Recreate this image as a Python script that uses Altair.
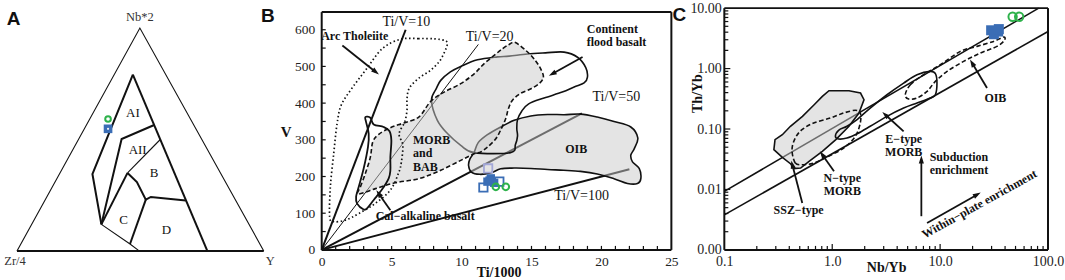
import math
import pandas as pd
import altair as alt

SERIF = "Liberation Serif"
SANS = "Liberation Sans"
INK = "#111111"
BLUE = "#3a6db5"
LIGHT_BLUE = "#a3a8d8"
GREEN = "#2eb24b"
FIELD_FILL = "#cacaca"
ARROW_SHAPE = "M0,-1L0.62,0.9L-0.62,0.9Z"

# ===================== Panel A : Zr/4 - Nb*2 - Y ternary (unit cartesian) =====================
A_TRIANGLE = [(0.0, 0.0), (0.498, 1.0), (1.0, 0.0)]
A_BASE = [(0.0, 0.0), (1.0, 0.0)]
A_THICK_LINES = {
    "k1": [(0.4696, 0.7915), (0.7713, 0.0)],
    "k2": [(0.4696, 0.7915), (0.3057, 0.345), (0.342, 0.119)],
    "k3": [(0.342, 0.119), (0.424, 0.502), (0.556, 0.565)],
    "k4": [(0.342, 0.119), (0.448, 0.350)],
    "k5": [(0.448, 0.350), (0.486, 0.309), (0.522, 0.230), (0.5425, 0.242), (0.684, 0.2265)],
    "k6": [(0.522, 0.230), (0.458, 0.031)],
}
A_THIN_LINES = {
    "t1": [(0.448, 0.350), (0.5807, 0.5)],
    "t2": [(0.342, 0.119), (0.458, 0.031), (0.495, 0.0)],
}
A_FIELD_TEXT = ["AI", "AII", "B", "C", "D"]
A_FIELD_X = [0.47, 0.489, 0.556, 0.432, 0.606]
A_FIELD_Y = [0.619, 0.454, 0.35, 0.14, 0.0955]
A_APEX_TEXT = ["Nb*2", "Zr/4", "Y"]
A_APEX_X = [0.498, -0.008, 1.026]
A_APEX_Y = [1.049, -0.046, -0.046]
A_CIRCLES = [(0.369, 0.592)]
A_SQUARES = [(0.369, 0.548)]

# ===================== Panel B : Ti/1000 vs V =====================
B_TIV_LINES = {
    "10": [(0.0, 0.0), (6.0, 600.0)],
    "20": [(0.0, 0.0), (11.2, 560.0)],
    "50": [(0.0, 0.0), (18.6, 372.0)],
    "100": [(0.0, 0.0), (22.0, 220.0)],
}
B_TIV_WIDTH = {"10": 2.0, "20": 1.0, "50": 2.0, "100": 2.0}
B_ARC_THOLEIITE = [(5.63, 574), (6.9, 576), (8.1, 575), (8.85, 570), (8.97, 559), (8.8, 541),
                   (8.42, 514), (7.77, 489), (6.94, 468), (6.27, 441), (6.1, 412), (6.1, 381),
                   (5.94, 349), (5.6, 325), (5.55, 310), (5.8, 285), (5.7, 240), (5.5, 210),
                   (4.91, 163), (3.84, 127), (2.65, 99), (1.69, 81), (0.86, 77), (0.57, 90),
                   (0.62, 172), (0.86, 263), (1.1, 344), (1.4, 395), (2.17, 441), (3.12, 489),
                   (4.32, 548)]
B_CAL_ALKALINE = [(3.12, 362), (3.48, 360), (3.72, 342), (4.43, 335), (4.84, 324), (4.98, 299),
                  (4.91, 253), (4.91, 217), (4.79, 195), (4.32, 165), (3.72, 136), (3.24, 113),
                  (3.0, 110), (2.53, 126), (2.46, 145), (2.65, 172), (3.0, 222), (3.31, 281),
                  (3.36, 317), (3.17, 349)]
B_MORB_BAB = [(2.6, 152), (2.77, 172), (3.12, 208), (3.48, 253), (3.65, 294), (4.08, 315),
              (4.91, 333), (5.87, 346), (6.94, 362), (7.8, 405), (8.75, 430), (9.94, 453),
              (10.9, 480), (11.6, 507), (12.33, 530), (12.92, 548), (13.4, 560), (13.85, 565),
              (14.7, 540), (15.3, 515), (15.7, 490), (15.85, 471), (15.6, 455), (15.0, 440),
              (14.2, 426), (13.64, 408), (13.35, 385), (13.16, 358), (12.85, 331), (12.45, 303),
              (11.85, 280), (11.37, 267), (10.9, 262), (9.94, 244), (8.51, 217), (6.94, 194),
              (5.27, 183), (3.84, 167)]
B_CFB = [(7.85, 408), (8.2, 440), (8.51, 462), (9.2, 485), (9.94, 500), (11.14, 518), (12.57, 526),
         (13.4, 528), (14.7, 534), (16.0, 537), (17.33, 539), (18.29, 525), (18.88, 497),
         (19.0, 471), (18.76, 455), (18.05, 444), (17.2, 430), (15.9, 414), (14.8, 398),
         (14.3, 378), (14.0, 355), (13.95, 330), (14.0, 310), (13.85, 287), (13.5, 265),
         (10.9, 265), (9.94, 285), (8.99, 317), (8.27, 353)]
B_OIB = [(10.9, 266), (11.2, 293), (11.85, 314), (12.8, 335), (13.76, 353), (14.95, 365),
         (16.15, 369), (17.33, 368.5), (18.5, 370), (19.7, 362), (20.9, 350), (22.1, 335),
         (22.6, 305), (22.35, 276), (22.1, 258), (22.22, 240), (22.7, 222), (22.82, 195),
         (22.58, 181), (21.86, 181), (20.9, 194), (19.7, 207), (18.5, 214), (17.3, 217),
         (16.15, 219), (14.95, 222), (13.76, 223), (12.8, 221), (12.1, 210), (11.3, 206),
         (10.7, 212), (10.5, 230), (10.6, 248)]
B_FRAME = [(0, 0, 25, 0), (0, 648, 25, 648), (0, 0, 0, 648), (25, 0, 25, 648)]
B_XTICKS = list(range(1, 25))
B_YTICKS = list(range(50, 601, 50))
B_XLABELS = [0, 5, 10, 15, 20, 25]
B_YLABELS = [0, 100, 200, 300, 400, 500, 600]
B_TEXT_PLAIN = ["Ti/V=10", "Ti/V=20", "Ti/V=50", "Ti/V=100"]
B_TEXT_PLAIN_X = [4.34, 10.3, 19.36, 16.62]
B_TEXT_PLAIN_Y = [620.8, 580, 416.8, 146.5]
B_TEXT_BOLD_LEFT = ["Cal\u2212alkaline basalt"]
B_TEXT_BOLD_LEFT_X = [3.86]
B_TEXT_BOLD_LEFT_Y = [92]
B_TEXT_BOLD_CENTER = ["Arc Tholeiite", "OIB"]
B_TEXT_BOLD_CENTER_X = [2.36, 18.2]
B_TEXT_BOLD_CENTER_Y = [582.7, 276]
# multi-line labels: (text, x, y of first line, line height px, align)
B_TEXT_BLOCKS = [("Continent\nflood basalt", 18.95, 602.7, 13.5, "left"),
                 ("MORB\nand\nBAB", 6.53, 298.9, 13.3, "left")]
B_ARROW_TAIL = [(1.48, 557), (18.65, 525.6), (4.91, 108)]
B_ARROW_HEAD = [(3.86, 485), (16.5, 480), (4.08, 153)]
B_OPEN_SQUARES = [(11.56, 170), (12.7, 186)]
B_LIGHT_SQUARES = [(11.9, 222)]
B_FILLED_SQUARES = [(12.09, 195), (11.85, 186), (12.33, 183), (12.0, 189)]
B_GREEN_CIRCLES = [(12.45, 172), (13.16, 172)]

# ===================== Panel C : Nb/Yb vs Th/Yb (log-log) =====================
C_ARRAY_LINES = {"upper": [(0.1, 0.0093), (82.0, 10.0)], "lower": [(0.1, 0.0038), (100.0, 4.1)]}
C_SSZ = [(0.933, 0.43), (1.43, 0.43), (1.83, 0.394), (1.97, 0.305), (1.77, 0.184), (1.43, 0.111),
         (1.08, 0.0667), (0.81, 0.0428), (0.61, 0.0292), (0.51, 0.0226), (0.44, 0.0221),
         (0.41, 0.0267), (0.345, 0.034), (0.288, 0.0455), (0.295, 0.0667), (0.345, 0.0805),
         (0.41, 0.111), (0.53, 0.162), (0.68, 0.252), (0.81, 0.347)]
C_NMORB = [(0.424, 0.0455), (0.455, 0.0274), (0.543, 0.0257), (0.673, 0.0274), (0.895, 0.0344),
           (1.276, 0.0485), (1.637, 0.0757), (1.82, 0.126), (1.82, 0.184), (1.637, 0.204),
           (1.276, 0.184), (0.96, 0.152), (0.673, 0.126), (0.525, 0.0973), (0.455, 0.071)]
C_EMORB = [(1.07, 0.0757), (1.146, 0.0953), (1.37, 0.111), (1.70, 0.143), (2.25, 0.222),
           (3.22, 0.369), (4.59, 0.575), (6.11, 0.791), (8.11, 0.897), (9.04, 0.822),
           (9.35, 0.575), (9.04, 0.369), (8.11, 0.325), (6.11, 0.269), (4.59, 0.222),
           (3.22, 0.162), (2.25, 0.111), (1.70, 0.0836), (1.37, 0.071), (1.146, 0.0684)]
C_OIB = [(4.75, 0.369), (5.30, 0.541), (7.03, 0.791), (10.05, 1.156), (15.38, 1.923),
         (21.98, 2.328), (31.3, 2.812), (38.8, 3.319), (39.4, 2.924), (33.6, 2.328),
         (23.6, 1.803), (16.5, 1.315), (11.6, 0.897), (9.04, 0.614), (7.57, 0.420),
         (6.11, 0.325), (5.11, 0.313)]
C_FRAME = [(0.1, 0.001, 100, 0.001), (0.1, 10, 100, 10), (0.1, 0.001, 0.1, 10), (100, 0.001, 100, 10)]
C_XTICKS_MAJOR = [1, 10]
C_XTICKS_MINOR = [0.2, 0.3, 0.4, 0.5, 0.6, 0.7, 0.8, 0.9, 2, 3, 4, 5, 6, 7, 8, 9,
                  20, 30, 40, 50, 60, 70, 80, 90]
C_YTICKS_MAJOR = [0.01, 0.1, 1]
C_YTICKS_MINOR = [0.002, 0.003, 0.004, 0.005, 0.006, 0.007, 0.008, 0.009,
                  0.02, 0.03, 0.04, 0.05, 0.06, 0.07, 0.08, 0.09,
                  0.2, 0.3, 0.4, 0.5, 0.6, 0.7, 0.8, 0.9, 2, 3, 4, 5, 6, 7, 8, 9]
C_XLABELS = [0.1, 1, 10, 100]
C_YLABELS = [0.001, 0.01, 0.1, 1, 10]
C_TEXT_BOLD_CENTER = ["SSZ\u2212type", "OIB"]
C_TEXT_BOLD_CENTER_X = [0.488, 32.5]
C_TEXT_BOLD_CENTER_Y = [0.00464, 0.325]
C_TEXT_BLOCKS = [("N\u2212type\nMORB", 1.24, 0.0155, 13.3, "center"),
                 ("E\u2212type\nMORB", 4.6, 0.0683, 13.0, "center"),
                 ("Subduction\nenrichment", 8.0, 0.0348, 13.0, "left")]
C_TEXT_ROTATED = ["Within\u2212plate enrichment"]
C_TEXT_ROTATED_X = [23.1]
C_TEXT_ROTATED_Y = [0.00575]
C_ARROW_TAIL = [(0.528, 0.00598), (1.039, 0.0200), (4.59, 0.0916), (27.2, 0.476), (6.70, 0.00361), (7.57, 0.00279)]
C_ARROW_HEAD = [(0.427, 0.0257), (0.809, 0.0376), (3.11, 0.172), (19.8, 1.233), (6.70, 0.0311), (22.0, 0.0082)]
C_FILLED_SQUARES = [(29.7, 4.3), (34.5, 4.1), (31.5, 3.7), (35.0, 4.5)]
C_GREEN_CIRCLES = [(47.0, 7.2), (54.0, 7.2)]

# ===================== layout constants =====================
A_W, A_H = 268, 280
B_W, B_H = 350, 247
C_W, C_H = 324, 247
GAP = 53


def pts_df(points, pid="p"):
    return pd.DataFrame({"id": pid, "i": list(range(len(points))),
                         "x": [p[0] for p in points], "y": [p[1] for p in points]})


def multi_df(dct):
    return pd.concat([pts_df(v, k) for k, v in dct.items()], ignore_index=True)


def text_df(texts, xs, ys):
    return pd.DataFrame({"t": texts, "x": xs, "y": ys})


def seg_df(rows):
    return pd.DataFrame({"x": [r[0] for r in rows], "y": [r[1] for r in rows],
                         "x2": [r[2] for r in rows], "y2": [r[3] for r in rows]})


def head_angle(dx, dy):
    return (math.degrees(math.atan2(dx, -dy)) + 360.0) % 360.0


# ---------------------------------------------------------------- Panel A
AXS = alt.Scale(domain=[-16 / 247, (A_W - 16) / 247], nice=False, zero=False)
AYS = alt.Scale(domain=[(248 - A_H) / 223, 248 / 223], nice=False, zero=False)


def enc_a(**kw):
    return dict(x=alt.X("x:Q", scale=AXS, axis=None), y=alt.Y("y:Q", scale=AYS, axis=None), **kw)


a_layers = [
    alt.Chart(pts_df(A_TRIANGLE)).mark_line(color=INK, strokeWidth=1.1).encode(**enc_a(order="i:Q")),
    alt.Chart(pts_df(A_BASE)).mark_line(color=INK, strokeWidth=2).encode(**enc_a(order="i:Q")),
    alt.Chart(multi_df(A_THICK_LINES)).mark_line(color=INK, strokeWidth=2).encode(
        **enc_a(detail="id:N", order="i:Q")),
    alt.Chart(multi_df(A_THIN_LINES)).mark_line(color=INK, strokeWidth=1.1).encode(
        **enc_a(detail="id:N", order="i:Q")),
    alt.Chart(text_df(A_FIELD_TEXT, A_FIELD_X, A_FIELD_Y)).mark_text(
        font=SERIF, fontSize=13, color=INK).encode(**enc_a(text="t:N")),
    alt.Chart(text_df(A_APEX_TEXT, A_APEX_X, A_APEX_Y)).mark_text(
        font=SERIF, fontSize=12.5, color="#333333").encode(**enc_a(text="t:N")),
    alt.Chart(pts_df(A_SQUARES)).mark_square(color=BLUE, size=75, opacity=1).encode(**enc_a()),
    alt.Chart(pts_df(A_SQUARES)).mark_circle(color="#f4f4f4", size=5, opacity=1).encode(**enc_a()),
    alt.Chart(pts_df(A_CIRCLES)).mark_point(shape="circle", filled=False, color=GREEN,
                                            strokeWidth=2, size=32, opacity=1).encode(**enc_a()),
    alt.Chart(pd.DataFrame({"t": ["A"]})).mark_text(
        font=SANS, fontWeight="bold", fontSize=19, color=INK).encode(
        text="t:N", x=alt.value(12.5), y=alt.value(15.5)),
]
panel_a = alt.layer(*a_layers).properties(width=A_W, height=A_H)

# ---------------------------------------------------------------- Panel B
BXS = alt.Scale(domain=[0, 25], nice=False, zero=False)
BYS = alt.Scale(domain=[0, 672.5], nice=False, zero=False)
B_PX_X = B_W / 25.0
B_PX_Y = B_H / 672.5

axis_common = dict(ticks=False, tickSize=0, domain=False, grid=False, labelFlush=False,
                   labelOverlap=False, labelFont=SERIF, labelColor="#222222",
                   titleFont=SERIF, titleFontWeight="bold", titleColor=INK,
                   titleAlign="center", titleBaseline="middle")

B_XAXIS = alt.Axis(values=B_XLABELS, labelFontSize=13.5, labelPadding=5, title="Ti/1000",
                   titleFontSize=14, titleX=B_W / 2 + 2, titleY=23, titleAngle=0, **axis_common)
B_YAXIS = alt.Axis(values=B_YLABELS, labelFontSize=13.5, labelPadding=7, title="V",
                   titleFontSize=15, titleX=-36, titleY=128, titleAngle=0, **axis_common)


def bx(f="x"):
    return alt.X(f + ":Q", scale=BXS, axis=B_XAXIS)


def by(f="y"):
    return alt.Y(f + ":Q", scale=BYS, axis=B_YAXIS)


tiv = multi_df(B_TIV_LINES)
tiv["w"] = tiv["id"].map(B_TIV_WIDTH)

b_arrows = seg_df([(t[0], t[1], h[0], h[1]) for t, h in zip(B_ARROW_TAIL, B_ARROW_HEAD)])
b_heads = pd.DataFrame({
    "x": [h[0] for h in B_ARROW_HEAD], "y": [h[1] for h in B_ARROW_HEAD],
    "a": [head_angle((h[0] - t[0]) * B_PX_X, -(h[1] - t[1]) * B_PX_Y)
          for t, h in zip(B_ARROW_TAIL, B_ARROW_HEAD)]})

bold_text = dict(font=SERIF, fontWeight="bold", fontSize=12, color=INK, baseline="middle")


def block_layers(blocks, xenc, yenc):
    out = []
    for txt, x, y, lh, al in blocks:
        out.append(alt.Chart(text_df([txt], [x], [y])).mark_text(
            align=al, lineBreak="\n", lineHeight=lh, **bold_text).encode(x=xenc(), y=yenc(), text="t:N"))
    return out


b_layers = [
    alt.Chart(tiv).mark_line(color=INK).encode(
        x=bx(), y=by(), detail="id:N", order="i:Q", strokeWidth=alt.StrokeWidth("w:Q", scale=None)),
    alt.Chart(pts_df(B_OIB)).mark_line(interpolate="cardinal-closed", fill=FIELD_FILL, fillOpacity=0.5,
                                       stroke=INK, strokeWidth=1.6).encode(x=bx(), y=by(), order="i:Q"),
    alt.Chart(pts_df(B_CFB)).mark_line(interpolate="cardinal-closed", stroke=INK,
                                       strokeWidth=1.6).encode(x=bx(), y=by(), order="i:Q"),
    alt.Chart(pts_df(B_MORB_BAB)).mark_line(interpolate="cardinal-closed", fill=FIELD_FILL,
                                            fillOpacity=0.5, stroke=INK, strokeWidth=1.6,
                                            strokeDash=[4.5, 2.5]).encode(x=bx(), y=by(), order="i:Q"),
    alt.Chart(pts_df(B_ARC_THOLEIITE)).mark_line(interpolate="cardinal-closed", stroke=INK,
                                                 strokeWidth=1.7, strokeDash=[1.5, 2.5]).encode(
        x=bx(), y=by(), order="i:Q"),
    alt.Chart(pts_df(B_CAL_ALKALINE)).mark_line(interpolate="cardinal-closed", stroke=INK,
                                                strokeWidth=1.8).encode(x=bx(), y=by(), order="i:Q"),
    alt.Chart(seg_df(B_FRAME)).mark_rule(color=INK, strokeWidth=2).encode(
        x=bx(), y=by(), x2="x2:Q", y2="y2:Q"),
    alt.Chart(pd.DataFrame({"x": B_XTICKS})).mark_rule(color=INK, strokeWidth=1.2).encode(
        x=bx(), y=alt.value(B_H), y2=alt.value(B_H - 4)),
    alt.Chart(pd.DataFrame({"y": B_YTICKS})).mark_rule(color=INK, strokeWidth=1.2).encode(
        y=by(), x=alt.value(0), x2=alt.value(4)),
    alt.Chart(b_arrows).mark_rule(color=INK, strokeWidth=1.8).encode(x=bx(), y=by(), x2="x2:Q", y2="y2:Q"),
    alt.Chart(b_heads).mark_point(shape=ARROW_SHAPE, filled=True, color=INK, size=70, opacity=1,
                                  strokeWidth=0).encode(x=bx(), y=by(), angle=alt.Angle("a:Q", scale=None)),
    alt.Chart(text_df(B_TEXT_PLAIN, B_TEXT_PLAIN_X, B_TEXT_PLAIN_Y)).mark_text(
        font=SERIF, fontSize=14, color=INK, align="left", baseline="middle").encode(x=bx(), y=by(), text="t:N"),
    alt.Chart(text_df(B_TEXT_BOLD_LEFT, B_TEXT_BOLD_LEFT_X, B_TEXT_BOLD_LEFT_Y)).mark_text(
        align="left", **bold_text).encode(x=bx(), y=by(), text="t:N"),
    alt.Chart(text_df(B_TEXT_BOLD_CENTER, B_TEXT_BOLD_CENTER_X, B_TEXT_BOLD_CENTER_Y)).mark_text(
        align="center", **bold_text).encode(x=bx(), y=by(), text="t:N"),
    *block_layers(B_TEXT_BLOCKS, bx, by),
    alt.Chart(pts_df(B_OPEN_SQUARES)).mark_point(shape="square", filled=False, color=BLUE, size=70,
                                                 strokeWidth=1.8, opacity=1).encode(x=bx(), y=by()),
    alt.Chart(pts_df(B_LIGHT_SQUARES)).mark_point(shape="square", filled=False, color=LIGHT_BLUE, size=70,
                                                  strokeWidth=1.8, opacity=1).encode(x=bx(), y=by()),
    alt.Chart(pts_df(B_FILLED_SQUARES)).mark_square(color=BLUE, size=70, opacity=1).encode(x=bx(), y=by()),
    alt.Chart(pts_df(B_GREEN_CIRCLES)).mark_point(shape="circle", filled=False, color=GREEN, size=45,
                                                  strokeWidth=2, opacity=1).encode(x=bx(), y=by()),
    alt.Chart(pd.DataFrame({"t": ["B"]})).mark_text(
        font=SANS, fontWeight="bold", fontSize=19, color=INK).encode(
        text="t:N", x=alt.value(-54), y=alt.value(12.5)),
]
panel_b = alt.layer(*b_layers).properties(width=B_W, height=B_H)

# ---------------------------------------------------------------- Panel C
C_YTOP = 10 ** (C_H / 60.5 - 3)
CXS = alt.Scale(type="log", domain=[0.1, 100], nice=False)
CYS = alt.Scale(type="log", domain=[0.001, C_YTOP], nice=False)
C_PX_DEC_X = C_W / 3.0
C_PX_DEC_Y = 60.5

C_XAXIS = alt.Axis(values=C_XLABELS, format=".1f", labelFontSize=14, labelPadding=5, title="Nb/Yb",
                   titleFontSize=14, titleX=C_W / 2, titleY=18, titleAngle=0, **axis_common)
C_YAXIS = alt.Axis(values=C_YLABELS, format=".2f", labelFontSize=14, labelPadding=3, title="Th/Yb",
                   titleFontSize=14, titleX=-27, titleY=90, titleAngle=270, **axis_common)


def cx(f="x"):
    return alt.X(f + ":Q", scale=CXS, axis=C_XAXIS)


def cy(f="y"):
    return alt.Y(f + ":Q", scale=CYS, axis=C_YAXIS)


c_arrows = seg_df([(t[0], t[1], h[0], h[1]) for t, h in zip(C_ARROW_TAIL, C_ARROW_HEAD)])
c_heads = pd.DataFrame({
    "x": [h[0] for h in C_ARROW_HEAD], "y": [h[1] for h in C_ARROW_HEAD],
    "a": [head_angle((math.log10(h[0]) - math.log10(t[0])) * C_PX_DEC_X,
                     -(math.log10(h[1]) - math.log10(t[1])) * C_PX_DEC_Y)
          for t, h in zip(C_ARROW_TAIL, C_ARROW_HEAD)]})

c_layers = [
    alt.Chart(multi_df(C_ARRAY_LINES)).mark_line(color=INK, strokeWidth=1.6).encode(
        x=cx(), y=cy(), detail="id:N", order="i:Q"),
    alt.Chart(pts_df(C_SSZ)).mark_line(interpolate="linear-closed", fill=FIELD_FILL, fillOpacity=0.5,
                                       stroke=INK, strokeWidth=1.6).encode(x=cx(), y=cy(), order="i:Q"),
    alt.Chart(pts_df(C_NMORB)).mark_line(interpolate="cardinal-closed", stroke=INK, strokeWidth=1.6,
                                         strokeDash=[4.5, 2.5]).encode(x=cx(), y=cy(), order="i:Q"),
    alt.Chart(pts_df(C_EMORB)).mark_line(interpolate="cardinal-closed", stroke=INK,
                                         strokeWidth=1.6).encode(x=cx(), y=cy(), order="i:Q"),
    alt.Chart(pts_df(C_OIB)).mark_line(interpolate="cardinal-closed", stroke=INK, strokeWidth=1.6,
                                       strokeDash=[4.5, 2.5]).encode(x=cx(), y=cy(), order="i:Q"),
    alt.Chart(seg_df(C_FRAME)).mark_rule(color=INK, strokeWidth=2).encode(
        x=cx(), y=cy(), x2="x2:Q", y2="y2:Q"),
    alt.Chart(pd.DataFrame({"x": C_XTICKS_MINOR})).mark_rule(color=INK, strokeWidth=1.2).encode(
        x=cx(), y=alt.value(C_H), y2=alt.value(C_H - 4)),
    alt.Chart(pd.DataFrame({"x": C_XTICKS_MAJOR})).mark_rule(color=INK, strokeWidth=1.2).encode(
        x=cx(), y=alt.value(C_H), y2=alt.value(C_H - 6)),
    alt.Chart(pd.DataFrame({"y": C_YTICKS_MINOR})).mark_rule(color=INK, strokeWidth=1.2).encode(
        y=cy(), x=alt.value(0), x2=alt.value(4)),
    alt.Chart(pd.DataFrame({"y": C_YTICKS_MAJOR})).mark_rule(color=INK, strokeWidth=1.2).encode(
        y=cy(), x=alt.value(0), x2=alt.value(6)),
    alt.Chart(c_arrows).mark_rule(color=INK, strokeWidth=1.8).encode(x=cx(), y=cy(), x2="x2:Q", y2="y2:Q"),
    alt.Chart(c_heads).mark_point(shape=ARROW_SHAPE, filled=True, color=INK, size=70, opacity=1,
                                  strokeWidth=0).encode(x=cx(), y=cy(), angle=alt.Angle("a:Q", scale=None)),
    alt.Chart(text_df(C_TEXT_BOLD_CENTER, C_TEXT_BOLD_CENTER_X, C_TEXT_BOLD_CENTER_Y)).mark_text(
        align="center", **bold_text).encode(x=cx(), y=cy(), text="t:N"),
    *block_layers(C_TEXT_BLOCKS, cx, cy),
    alt.Chart(text_df(C_TEXT_ROTATED, C_TEXT_ROTATED_X, C_TEXT_ROTATED_Y)).mark_text(
        align="center", angle=331, **bold_text).encode(x=cx(), y=cy(), text="t:N"),
    alt.Chart(pts_df(C_FILLED_SQUARES)).mark_square(color=BLUE, size=100, opacity=1).encode(x=cx(), y=cy()),
    alt.Chart(pts_df(C_GREEN_CIRCLES)).mark_point(shape="circle", filled=False, color=GREEN, size=70,
                                                  strokeWidth=2, opacity=1).encode(x=cx(), y=cy()),
    alt.Chart(pd.DataFrame({"t": ["C"]})).mark_text(
        font=SANS, fontWeight="bold", fontSize=19, color=INK).encode(
        text="t:N", x=alt.value(-45), y=alt.value(12)),
]
panel_c = alt.layer(*c_layers).properties(width=C_W, height=C_H)

chart = alt.hconcat(panel_a, panel_b, panel_c, spacing=GAP, bounds="flush").properties(
    padding=0, background="white"
).configure_view(stroke="transparent")

chart.save("out.html", embed_options={"renderer": "svg", "actions": False})
